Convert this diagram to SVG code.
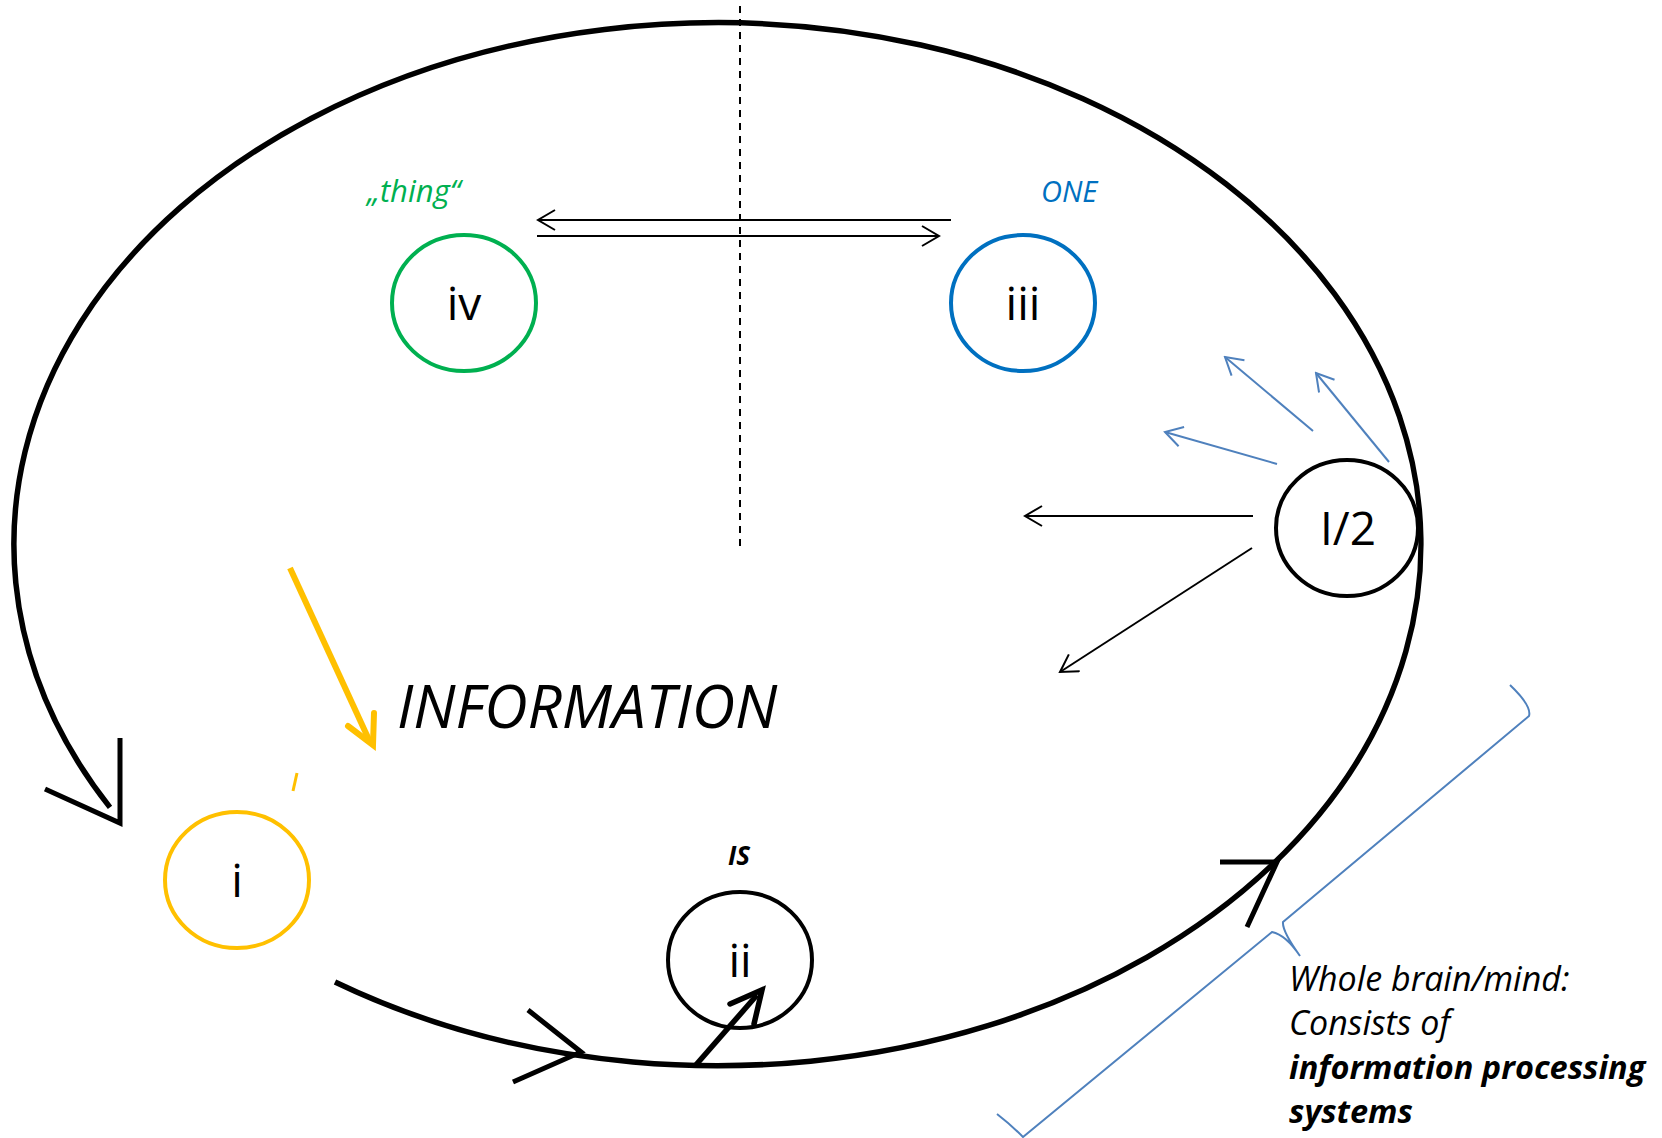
<svg xmlns="http://www.w3.org/2000/svg" width="1662" height="1138" viewBox="0 0 1662 1138">
<style>
.big{fill:none;stroke:#000;stroke-width:5.5}
.node{fill:none;stroke-width:4}
.lbl{font-family:"Open Sans","Noto Sans",sans-serif;font-size:46px;fill:#000;text-anchor:middle}
.thin{fill:none;stroke:#000;stroke-width:2;marker-end:url(#hb)}
.blue{fill:none;stroke:#4F81BD;stroke-width:2;marker-end:url(#hbl)}
.head{fill:none;stroke:#000;stroke-width:5}
.it{font-family:"Open Sans","Noto Sans",sans-serif;font-style:italic}
</style>
<defs>
<marker id="hb" markerUnits="userSpaceOnUse" viewBox="0 0 22 22" refX="20" refY="11" markerWidth="22" markerHeight="22" orient="auto">
<path d="M3,1 L20,11 L3,21" fill="none" stroke="#000" stroke-width="2"/>
</marker>
<marker id="hbl" markerUnits="userSpaceOnUse" viewBox="0 0 22 22" refX="20" refY="11" markerWidth="22" markerHeight="22" orient="auto">
<path d="M3,1 L20,11 L3,21" fill="none" stroke="#4F81BD" stroke-width="2"/>
</marker>
</defs>
<rect width="1662" height="1138" fill="#fff"/>
<g id="connectors">
<path class="big" d="M 110 807.4 A 703.5 521.5 0 1 1 335 982"/>
<polyline class="head" points="120,738 120,823 45,789"/>
<polyline class="head" points="528,1010 581,1052 513,1082"/>
<polyline class="head" points="1220,862 1277,862 1247,927"/>
<line x1="740" y1="6" x2="740" y2="549" stroke="#000" stroke-width="2" stroke-dasharray="7,6"/>
<line class="thin" x1="951" y1="220" x2="538" y2="220"/>
<line class="thin" x1="537" y1="236" x2="939" y2="236"/>
<line class="thin" x1="1253" y1="516" x2="1025" y2="516"/>
<line class="thin" x1="1252" y1="548" x2="1060" y2="672"/>
<line class="blue" x1="1277" y1="464" x2="1165" y2="432"/>
<line class="blue" x1="1313" y1="431" x2="1225" y2="357"/>
<line class="blue" x1="1389" y1="462" x2="1316" y2="373"/>
<g stroke="#FFC000" stroke-width="6" fill="none">
<line x1="290" y1="568" x2="370" y2="742"/>
<polyline points="348,726 373,745 374,713" stroke-linecap="round" stroke-linejoin="miter"/>
<line x1="297" y1="773" x2="293" y2="791" stroke-width="3"/>
</g>
<g stroke="#000" stroke-width="5.5" fill="none">
<line x1="695" y1="1066" x2="757" y2="995"/>
<polyline points="730,1004 762,990 754,1024" stroke-linecap="round"/>
</g>
<path d="M 1510 685 Q 1532 706 1529 716 L 1283 922 Q 1282 931 1300 956 Q 1286 935 1272 932 L 1023 1137 Q 1010 1124 997 1114" fill="none" stroke="#4F81BD" stroke-width="2"/>
</g>
<g id="node-iv">
<ellipse class="node" cx="464" cy="303" rx="72" ry="68" stroke="#00B050"/>
<text class="lbl" x="464" y="320">iv</text>
<text class="it" x="367" y="202" font-size="31" fill="#00B050">„thing“</text>
</g>
<g id="node-iii">
<ellipse class="node" cx="1023" cy="303" rx="72" ry="68" stroke="#0070C0"/>
<text class="lbl" x="1023" y="320">iii</text>
<text class="it" x="1041" y="202" font-size="29" fill="#0070C0">ONE</text>
</g>
<g id="node-i">
<ellipse class="node" cx="237" cy="880" rx="72" ry="68" stroke="#FFC000"/>
<text class="lbl" x="237" y="897">i</text>
</g>
<g id="node-ii">
<ellipse class="node" cx="740" cy="960" rx="72" ry="68" stroke="#000"/>
<text class="lbl" x="740" y="977">ii</text>
<text class="it" x="739" y="865" font-size="26" font-weight="bold" text-anchor="middle">IS</text>
</g>
<g id="node-I2">
<ellipse class="node" cx="1347" cy="528" rx="71" ry="68" stroke="#000"/>
<text class="lbl" x="1348" y="545">I/2</text>
</g>
<g id="labels">
<text class="it" x="397" y="728" font-size="60">INFORMATION</text>
<text class="it" font-size="34" fill="#000">
<tspan x="1289" y="991">Whole brain/mind:</tspan>
<tspan x="1289" y="1035">Consists of</tspan>
<tspan x="1289" y="1079" font-weight="bold" font-size="32.5">information processing</tspan>
<tspan x="1289" y="1123" font-weight="bold" font-size="32.5">systems</tspan>
</text>
</g>
</svg>
